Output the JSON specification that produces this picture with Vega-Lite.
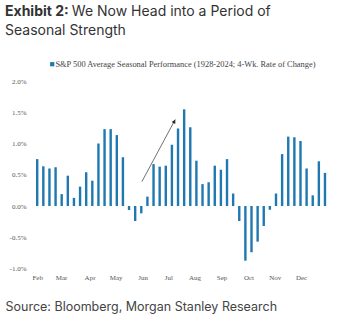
{
  "$schema": "https://vega.github.io/schema/vega-lite/v6.json",
  "autosize": "none",
  "width": 302,
  "height": 187.5,
  "padding": {"left": 30, "top": 81, "right": 10, "bottom": 52.5},
  "background": "white",
  "config": {"view": {"stroke": null}, "axis": {"labelOverlap": false}},
  "title": {
    "text": "Exhibit 2:",
    "subtitle": ["\u200b\u2003\u2003\u2003\u2003\u2002\u2009\u200aWe Now Head into a Period of", "Seasonal Strength"],
    "anchor": "start",
    "frame": "group",
    "dx": -25,
    "dy": -18,
    "font": "Inter",
    "fontSize": 14,
    "fontWeight": "bold",
    "color": "#333333",
    "subtitleFont": "Inter",
    "subtitleFontSize": 14,
    "subtitleFontWeight": "normal",
    "subtitleColor": "#333333",
    "subtitlePadding": -14,
    "subtitleLineHeight": 19
  },
  "datasets": {
    "weeks": [
      {"w": 1, "v": 0.75}, {"w": 2, "v": 0.635}, {"w": 3, "v": 0.6}, {"w": 4, "v": 0.62},
      {"w": 5, "v": 0.19}, {"w": 6, "v": 0.485}, {"w": 7, "v": 0.13}, {"w": 8, "v": 0.31},
      {"w": 9, "v": 0.54}, {"w": 10, "v": 0.405}, {"w": 11, "v": 1.0}, {"w": 12, "v": 1.23},
      {"w": 13, "v": 1.23}, {"w": 14, "v": 1.135}, {"w": 15, "v": 0.78}, {"w": 16, "v": -0.064},
      {"w": 17, "v": -0.24}, {"w": 18, "v": -0.117}, {"w": 19, "v": 0.15}, {"w": 20, "v": 0.67},
      {"w": 21, "v": 0.63}, {"w": 22, "v": 0.645}, {"w": 23, "v": 0.98}, {"w": 24, "v": 1.24},
      {"w": 25, "v": 1.547}, {"w": 26, "v": 1.26}, {"w": 27, "v": 0.725}, {"w": 28, "v": 0.35},
      {"w": 29, "v": 0.38}, {"w": 30, "v": 0.645}, {"w": 31, "v": 0.58}, {"w": 32, "v": 0.75},
      {"w": 33, "v": 0.2}, {"w": 34, "v": -0.24}, {"w": 35, "v": -0.875}, {"w": 36, "v": -0.74},
      {"w": 37, "v": -0.57}, {"w": 38, "v": -0.32}, {"w": 39, "v": -0.06}, {"w": 40, "v": 0.2},
      {"w": 41, "v": 0.83}, {"w": 42, "v": 1.11}, {"w": 43, "v": 1.1}, {"w": 44, "v": 1.04},
      {"w": 45, "v": 0.6}, {"w": 46, "v": 0.17}, {"w": 47, "v": 0.715}, {"w": 48, "v": 0.53}
    ],
    "arrow": [
      {"x": 18.1, "y": 0.39, "x2": 23.55, "y2": 1.385}
    ],
    "head": [
      {"x": 23.4, "y": 1.355}
    ]
  },
  "layer": [
    {
      "data": {"name": "weeks"},
      "mark": {"type": "bar", "size": 2.4},
      "encoding": {
        "x": {
          "field": "w", "type": "quantitative",
          "scale": {"domain": [0.64, 48.33], "nice": false, "zero": false},
          "axis": {
            "values": [1, 4.9, 9.55, 13.8, 18.2, 22.4, 26.7, 31.1, 35.5, 39.8, 44.1],
            "tickCount": 30,
            "labelExpr": "['Feb','Mar','Apr','May','Jun','Jul','Aug','Sep','Oct','Nov','Dec'][round((datum.value-1)/4.31)]",
            "grid": false, "ticks": false, "domain": false,
            "labelFont": "Liberation Serif", "labelFontSize": 7, "labelColor": "#555555",
            "labelPadding": 5, "labelFlush": false, "labelOverlap": false, "labelSeparation": 0,
            "labelAlign": "center", "labelBaseline": "top", "labelBound": false,
            "title": "Source: Bloomberg, Morgan Stanley Research",
            "titleFont": "Inter", "titleFontSize": 12.5, "titleFontWeight": "normal", "titleColor": "#444444",
            "titleAnchor": "start", "titleAlign": "left", "titleBaseline": "alphabetic",
            "titleX": -25, "titleY": 42
          }
        },
        "y": {
          "field": "v", "type": "quantitative",
          "scale": {"domain": [-1, 2], "nice": false},
          "axis": {
            "values": [-1, -0.5, 0, 0.5, 1, 1.5, 2],
            "tickCount": 20,
            "labelExpr": "replace(format(datum.value/100, '.1%'), '\u2212', '-')",
            "grid": false, "ticks": false, "domain": false,
            "labelFont": "Liberation Serif", "labelFontSize": 7, "labelColor": "#555555",
            "labelPadding": 4, "title": null
          }
        },
        "color": {
          "datum": "S&P 500 Average Seasonal Performance (1928-2024; 4-Wk. Rate of Change)",
          "type": "nominal",
          "scale": {"range": ["#1f78b0"]},
          "legend": {
            "orient": "none", "legendX": 18, "legendY": -21, "title": null,
            "symbolType": "square", "symbolSize": 18, "symbolStrokeWidth": 0,
            "labelFont": "Liberation Serif", "labelFontSize": 8.4, "labelColor": "#444444",
            "labelOffset": -1, "padding": 0, "labelLimit": 400
          }
        }
      }
    },
    {
      "mark": {"type": "rule", "color": "#555555", "strokeWidth": 1},
      "encoding": {"y": {"datum": 0}}
    },
    {
      "data": {"name": "arrow"},
      "mark": {"type": "rule", "color": "#333333", "strokeWidth": 0.7},
      "encoding": {
        "x": {"field": "x", "type": "quantitative"},
        "y": {"field": "y", "type": "quantitative"},
        "x2": {"field": "x2"},
        "y2": {"field": "y2"}
      }
    },
    {
      "data": {"name": "head"},
      "mark": {"type": "point", "shape": "triangle-up", "filled": true, "color": "#222222", "size": 18, "angle": 29, "opacity": 1},
      "encoding": {
        "x": {"field": "x", "type": "quantitative"},
        "y": {"field": "y", "type": "quantitative"}
      }
    }
  ]
}
